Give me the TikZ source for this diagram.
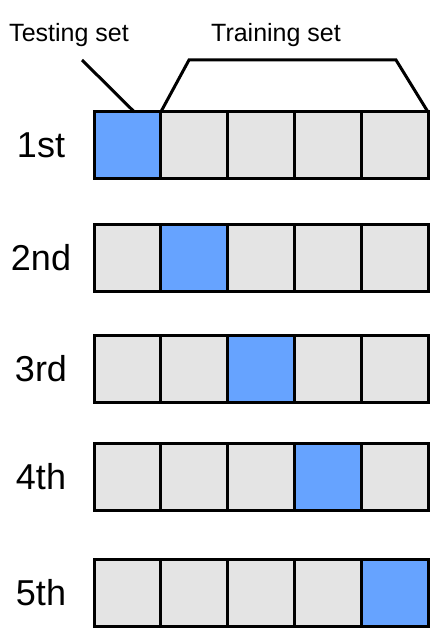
\documentclass[tikz,border=0pt]{standalone}
\usepackage{fontspec}
\setmainfont{Liberation Sans}
\definecolor{testblue}{HTML}{66A3FF}
\definecolor{traingray}{HTML}{E4E4E4}

\begin{document}
\begin{tikzpicture}[x=1pt,y=-1pt,line width=3pt,
  fold/.style={draw,fill=traingray,minimum width=66.8pt,minimum height=67pt,inner sep=0pt,outer sep=0pt},
  test/.style={fold,fill=testblue},
  rowlbl/.style={font=\fontsize{36}{40}\selectfont},
  setlbl/.style={font=\fontsize{25}{30}\selectfont,anchor=base}]
\useasboundingbox (0,0) rectangle (436,628);

% one row per fold, blue cell is the testing set
\foreach \r/\y/\name in {1/145.5/1st,2/257.5/2nd,3/368.5/3rd,4/476.5/4th,5/592.5/5th}{
  \node[rowlbl] (r\r) at (41,\y) {\name};
  \foreach \c in {1,...,5}{
    \ifnum\c=\r \def\cellstyle{test}\else\def\cellstyle{fold}\fi
    \node[\cellstyle] (c\r-\c) at ({94+66.8*(\c-0.5)},\y) {};
  }
}

\node[setlbl] (testing) at (69,42) {Testing set};
\node[setlbl] (training) at (276,42) {Training set};

\coordinate (tt) at (82,60);
\coordinate (b1) at (189,60);
\coordinate (b2) at (396,60);

\draw (tt) -- ([xshift=7pt]c1-1.north);
\draw (c1-2.north west) -- (b1) -- (b2) -- (c1-5.north east);
\end{tikzpicture}
\end{document}
